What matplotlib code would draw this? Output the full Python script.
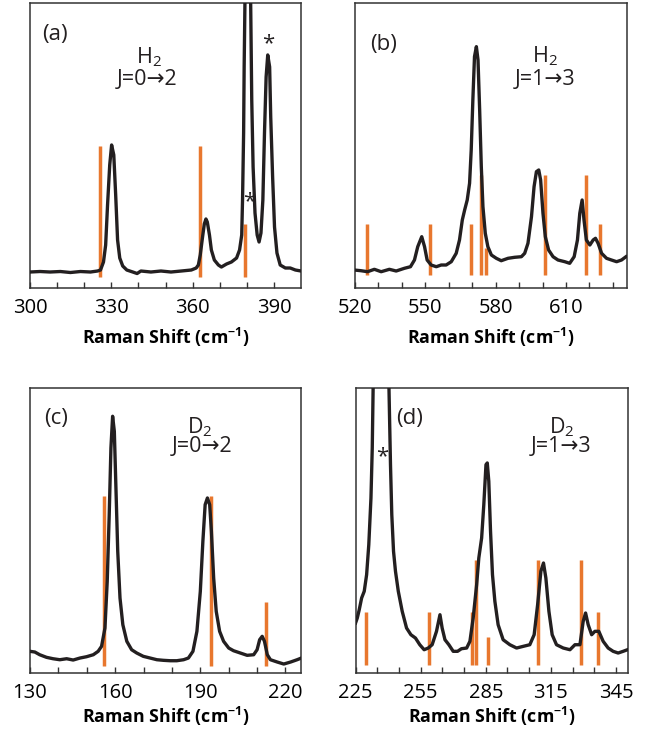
import numpy as np
import matplotlib
matplotlib.use('Agg')
import matplotlib.pyplot as plt

plt.rcParams['font.family'] = ['Open Sans', 'DejaVu Sans']
plt.rcParams['mathtext.default'] = 'regular'

# ---- (a) H2, J=0->2 -------------------------------------------------------
a_shift = [300, 303.7, 307.4, 311.2, 314.9, 318.6, 322.3, 324.9, 326.0, 327.1,
           327.9, 328.6, 329.4, 330.1, 330.9, 331.6, 332.3, 333.1, 334.2, 335.7,
           337.9, 339.5, 340.9, 344.6, 348.3, 352.0, 355.8, 359.5, 361.3, 362.1,
           362.8, 363.6, 364.3, 364.9, 365.4, 366.2, 366.9, 368.0, 369.5, 370.6,
           372.5, 374.3, 376.2, 377.3, 378.1, 378.4, 378.8, 379.0, 379.3, 379.6,
           380.4, 381.1, 381.4, 381.8, 382.3, 383.0, 383.8, 384.5, 385.2, 385.9,
           386.5, 387.1, 387.7, 388.4, 388.8, 389.5, 390.2, 391.1, 392.3, 394.2,
           396.0, 397.9, 400.0]
a_counts = [16, 16.5, 16, 16.5, 15.5, 16.5, 16, 17, 18, 26,
            43, 83, 123, 143, 133, 93, 48, 30, 22, 18,
            16, 14.5, 17, 16, 17, 16, 17, 18, 20, 23,
            33, 50, 64, 69, 66, 53, 38, 28, 23, 21,
            24, 26, 30, 38, 53, 88, 155, 221, 288, 380,
            440, 380, 285, 188, 121, 75, 53, 46, 55, 88,
            155, 211, 233, 221, 171, 111, 61, 35, 23, 20,
            20, 18, 17]
a_lines = [325.9, 362.8, 379.2]
a_heights = [142, 142, 64]

# ---- (b) H2, J=1->3 -------------------------------------------------------
b_shift = [519.7, 522.6, 525.4, 528.3, 531.2, 534.7, 537.6, 541.1, 543.7, 545.4,
           546.8, 548.5, 549.7, 550.8, 552.5, 554.7, 556.8, 558.9, 561.1, 563.2,
           564.6, 565.8, 566.8, 567.9, 568.9, 569.6, 570.3, 571.0, 571.8, 572.5,
           573.2, 573.9, 574.6, 575.6, 576.7, 578.2, 580.3, 582.4, 585.3, 588.1,
           591.0, 592.4, 593.8, 595.3, 596.4, 597.4, 598.4, 599.2, 600.2, 601.2,
           602.6, 604.5, 606.6, 609.5, 611.6, 613.5, 614.9, 615.9, 616.9, 617.7,
           618.7, 620.2, 621.6, 622.6, 623.7, 625.2, 627.3, 629.4, 631.6, 633.7,
           635.6]
b_counts = [18, 17.3, 16.3, 18.7, 16.3, 18.7, 17, 19.7, 21.3, 28,
            41.3, 51.3, 41.3, 28, 23, 21.3, 23, 23, 26.3, 34.7,
            48, 68, 78, 88, 104.7, 138, 188, 231.3, 241.3, 228,
            178, 121.3, 81.3, 54.7, 41.3, 33, 29.7, 27.3, 29.7, 30.7,
            31.3, 34.7, 44.7, 71.3, 101.3, 116.3, 118, 108, 74.7, 51.3,
            38, 31.3, 28, 26.3, 24.7, 31.3, 48, 74.7, 88, 68,
            48, 43, 48, 49.7, 44.7, 34.7, 29.7, 28, 26.3, 28,
            31.3]
b_lines = [525.2, 552.2, 569.6, 573.9, 575.9, 600.9, 618.5, 624.4]
b_heights = [64, 64, 64, 113, 40, 113, 113, 64]

# ---- (c) D2, J=0->2 -------------------------------------------------------
c_shift = [130, 131.7, 133.4, 135.8, 138.1, 140.5, 142.9, 145.2, 147.6, 149.9,
           152.3, 154.0, 155.2, 156.4, 157.2, 157.9, 158.5, 159.1, 159.7, 160.3,
           160.9, 161.7, 162.7, 164.1, 165.8, 167.6, 169.9, 172.3, 174.7, 177.0,
           179.4, 181.7, 184.1, 185.8, 187.4, 188.8, 190.0, 190.9, 191.7, 192.5,
           193.3, 193.9, 194.7, 195.6, 196.8, 198.2, 200.0, 201.7, 204.1, 206.5,
           208.8, 210.0, 210.9, 211.8, 212.6, 213.6, 214.7, 217.1, 219.4, 221.8,
           224.1, 225.6]
c_counts = [21.7, 21, 18.3, 15.7, 14.3, 13.3, 14.3, 13, 15, 16.3,
            18.3, 21.7, 26.7, 45, 91.7, 158.3, 225, 256.7, 241.7, 181.7,
            121.7, 75, 48.3, 31.7, 23.3, 20, 16.7, 15, 13.3, 12.7,
            12.3, 12.3, 13.3, 15, 21.7, 41.7, 81.7, 131.7, 168.3, 175,
            168.3, 141.7, 95, 61.7, 41.7, 31.7, 25, 22.3, 20, 17.7,
            18.3, 23.3, 33.3, 36.7, 31.7, 18.3, 13.3, 11, 9, 11,
            13.3, 15]
c_lines = [156.0, 193.6, 213.2]
c_heights = [177, 177, 71]

# ---- (d) D2, J=1->3 -------------------------------------------------------
d_shift = [225.0, 225.8, 226.7, 227.8, 229.0, 230.1, 231.1, 232.1, 232.7, 233.1,
           234.0, 237.0, 240.0, 240.4, 241.1, 241.7, 242.5, 243.4, 244.7, 246.5,
           248.5, 250.5, 252.6, 254.6, 256.6, 258.5, 260.3, 262.3, 263.9, 264.9,
           266.2, 268.0, 270.0, 272.0, 273.8, 276.2, 277.7, 279.2, 280.8, 281.8,
           283.1, 284.1, 285.1, 285.7, 286.4, 287.2, 288.1, 289.2, 290.7, 293.0,
           296.1, 299.2, 302.3, 305.3, 307.3, 308.9, 310.4, 311.6, 312.7, 314.1,
           315.6, 317.6, 320.7, 323.8, 326.1, 328.4, 329.9, 331.0, 332.2, 333.8,
           335.3, 337.1, 339.1, 341.4, 343.7, 346.0, 348.3, 350.3]
d_counts = [50, 55, 63.3, 75, 81.7, 98.3, 128.3, 175, 225, 285,
            400, 460, 400, 285, 208.3, 158.3, 121.7, 101.7, 81.7, 61.7,
            45, 38.3, 35, 28.3, 23.3, 25, 28.3, 41.7, 58.3, 45,
            33.3, 28.3, 21.7, 21.7, 24.3, 25, 31.7, 55, 88.3, 115,
            135, 168.3, 208.3, 210, 191.7, 141.7, 98.3, 71.7, 48.3, 33.3,
            28.3, 25, 26.7, 28.3, 38.3, 68.3, 101.7, 110, 95, 61.7,
            38.3, 28.3, 25, 23.3, 28.3, 28.3, 51.7, 60, 48.3, 38.3,
            41.7, 41.7, 31.7, 25, 21.7, 20, 21.7, 23.3]
d_lines = [229.8, 258.8, 278.5, 280.3, 286.1, 309.2, 329.1, 336.5]
d_heights = [61, 61, 61, 113, 36, 113, 113, 61]

INK = '#231f20'
ORANGE = '#e8772e'

fig = plt.figure(figsize=(6.5, 7.31), dpi=100)

panels = [
    # rect, data, xlim, first tick, tag, line bottom, text spots, transition,
    # molecule, xlabel pad
    ([0.0462, 0.606, 0.417, 0.390], (a_shift, a_counts, a_lines, a_heights),
     (300, 400), 300, 'a', 11, (0.092, 0.888), (0.44, 0.81), (0.432, 0.73), 'J=0\u21922', 'H', 6),
    ([0.546, 0.606, 0.4185, 0.390], (b_shift, b_counts, b_lines, b_heights),
     (520, 636), 520, 'b', 13, (0.104, 0.853), (0.70, 0.812), (0.70, 0.73), 'J=1\u21923', 'H', 6),
    ([0.0462, 0.0793, 0.417, 0.390], (c_shift, c_counts, c_lines, c_heights),
     (130, 225.5), 130, 'c', 7, (0.096, 0.894), (0.627, 0.864), (0.633, 0.794), 'J=0\u21922', 'D', 1.5),
    ([0.547, 0.0793, 0.419, 0.390], (d_shift, d_counts, d_lines, d_heights),
     (225, 350.5), 225, 'd', 8, (0.20, 0.894), (0.756, 0.864), (0.753, 0.794), 'J=1\u21923', 'D', 1.5),
]

axes = {}
for rect, data, xlim, x0, tag, lbot, tagpos, molpos, jpos, jtext, atom, lpad in panels:
    ax = fig.add_axes(rect)
    shift, counts, lines, heights = data
    ax.vlines(lines, lbot, heights, colors=ORANGE, lw=2.5, zorder=2)
    ax.plot(shift, counts, color=INK, lw=2.4, zorder=3, solid_joinstyle='round')
    ax.set_xlim(*xlim)
    ax.set_ylim(0, 285)
    ax.set_yticks([])
    ax.set_xticks(np.arange(x0, xlim[1], 30))
    ax.set_xticks(np.arange(x0 + 10, xlim[1], 10), minor=True)
    ax.tick_params(axis='x', which='both', direction='in', length=4.5, width=1,
                   color='#333333', labelsize=14.5, pad=7)
    for sp in ax.spines.values():
        sp.set_linewidth(1.1)
        sp.set_color('#333333')
    ax.set_xlabel('Raman Shift (cm$^{-1}$)', fontsize=12.8, fontweight='bold',
                  labelpad=lpad)
    ax.text(*tagpos, '(%s)' % tag, transform=ax.transAxes, fontsize=16,
            ha='center', va='center', color=INK)
    ax.text(*molpos, atom + '$_2$', transform=ax.transAxes, fontsize=15.5,
            ha='center', va='center', color=INK)
    ax.text(*jpos, jtext, transform=ax.transAxes, fontsize=15.5,
            ha='center', va='center', color=INK)
    axes[tag] = ax

# asterisks on the reference lines
axes['a'].text(380.8, 86, '*', fontsize=16, ha='center', va='center', color=INK)
axes['a'].text(387.7, 244, '*', fontsize=16, ha='center', va='center', color=INK)
axes['d'].text(237.4, 216, '*', fontsize=16, ha='center', va='center', color=INK)

fig.savefig('out.png', dpi=100)
